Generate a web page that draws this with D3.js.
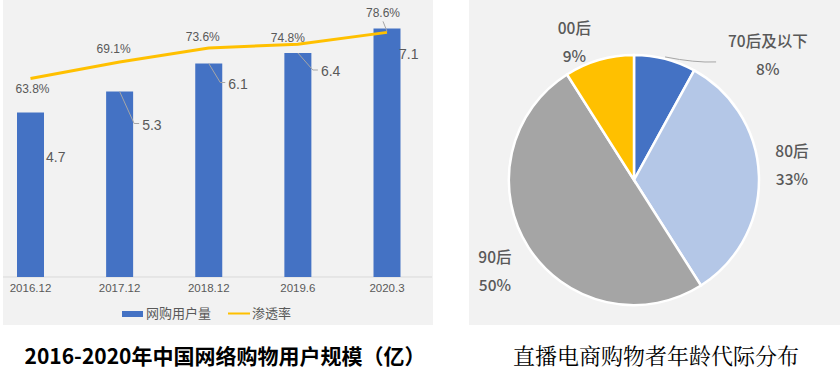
<!DOCTYPE html>
<html>
<head>
<meta charset="utf-8">
<script src="https://cdn.jsdelivr.net/npm/d3@7"></script>
<style>
	body{margin:0;background:#fff;}
	svg{display:block;}
	.cjk{font-family:"Noto Sans CJK SC","Noto Sans",sans-serif;}
	.narrow{font-family:"Liberation Sans Narrow","Arial Narrow","Liberation Sans",sans-serif;}
	.num{font-family:"Liberation Sans",Arial,sans-serif;}
</style>
</head>
<body>
<div id="chart"></div>
<script>
// dados do gráfico de barras
var years = ["2016.12","2017.12","2018.12","2019.6","2020.3"];
var users = [4.7, 5.3, 6.1, 6.4, 7.1];
var rate = [63.8, 69.1, 73.6, 74.8, 78.6];
// dados da pizza
var ageGroups = ["70后及以下","80后","90后","00后"];
var agePct = [8, 33, 50, 9];

var W = 840, H = 373;
var grey = "#595959";
var svg = d3.select("#chart").append("svg").attr("width", W).attr("height", H);

// fundos cinza
svg.append("rect").attr("x",3).attr("y",0).attr("width",430).attr("height",325).attr("fill","#f2f2f2");
svg.append("rect").attr("x",469).attr("y",0).attr("width",371).attr("height",325).attr("fill","#f2f2f2");

// ---------- barras + linha ----------
var base = 277;
var x = d3.scalePoint().domain(years).range([30.5, 387]);
var y = d3.scaleLinear().domain([0, 8]).range([base, base - 280]);
var yRate = d3.scaleLinear().domain([0, 89]).range([base, 0]);
var barW = 27;

var left = svg.append("g");

left.append("line").attr("x1",3).attr("x2",432).attr("y1",base).attr("y2",base)
	.attr("stroke","#d9d9d9").attr("stroke-width",1);

left.selectAll(".bar").data(users).enter().append("rect")
	.attr("class","bar")
	.attr("x", function(d,i){ return x(years[i]) - barW/2; })
	.attr("y", function(d){ return y(d); })
	.attr("width", barW)
	.attr("height", function(d){ return base - y(d); })
	.attr("fill","#4472c4");

// posição dos rótulos de valor (ajustes manuais como no original)
var valOff = [[15.5,44],[22.5,33],[19.5,20],[23,18],[12,25]];
left.selectAll(".vlead").data(users).enter()
	.filter(function(d,i){ return valOff[i][0] > 18; })
	.append("polyline").attr("class","vlead")
	.attr("points", function(d){
		var i = users.indexOf(d);
		var cx = x(years[i]), ty = y(d);
		var lx = cx + valOff[i][0], ly = ty + valOff[i][1];
		return [[cx,ty],[lx-8,ly-1],[lx-3,ly-1]].map(function(p){return p.join(",");}).join(" ");
	})
	.attr("fill","none").attr("stroke","#a6a6a6").attr("stroke-width",1);

left.selectAll(".vlabel").data(users).enter().append("text")
	.attr("class","vlabel num")
	.attr("x", function(d,i){ return x(years[i]) + valOff[i][0]; })
	.attr("y", function(d,i){ return y(d) + valOff[i][1] + 5; })
	.attr("font-size",14).attr("fill",grey)
	.text(function(d){ return d.toFixed(1); });

var line = d3.line()
	.x(function(d,i){ return x(years[i]); })
	.y(function(d){ return yRate(d); });
left.append("path").datum(rate).attr("d", line)
	.attr("fill","none").attr("stroke","#ffc000").attr("stroke-width",3);

var rateOff = [[2,15],[-6,-9],[-6,-7],[-10,-2],[-4,-15]];
left.append("line")
	.attr("x1", x(years[4]) - 4).attr("y1", yRate(rate[4]) - 11)
	.attr("x2", x(years[4])).attr("y2", yRate(rate[4]) - 1)
	.attr("stroke","#a6a6a6").attr("stroke-width",1);
left.selectAll(".rlabel").data(rate).enter().append("text")
	.attr("class","rlabel narrow")
	.attr("x", function(d,i){ return x(years[i]) + rateOff[i][0]; })
	.attr("y", function(d,i){ return yRate(d) + rateOff[i][1]; })
	.attr("text-anchor","middle").attr("font-size",12).attr("fill",grey)
	.text(function(d){ return d.toFixed(1) + "%"; });

left.selectAll(".tick").data(years).enter().append("text")
	.attr("class","tick narrow")
	.attr("x", function(d){ return x(d); })
	.attr("y", 292)
	.attr("text-anchor","middle").attr("font-size",11.5).attr("fill",grey)
	.text(function(d){ return d; });

// legenda
var leg = left.append("g").attr("class","cjk");
leg.append("rect").attr("x",122).attr("y",311).attr("width",21).attr("height",6).attr("fill","#4472c4");
leg.append("text").attr("x",146).attr("y",318).attr("font-size",13).attr("fill",grey).text("网购用户量");
leg.append("line").attr("x1",228).attr("x2",250).attr("y1",313.5).attr("y2",313.5)
	.attr("stroke","#ffc000").attr("stroke-width",2);
leg.append("text").attr("x",252).attr("y",318).attr("font-size",13).attr("fill",grey).text("渗透率");

svg.append("text").attr("class","cjk")
	.attr("x",225).attr("y",364).attr("text-anchor","middle")
	.attr("font-size",21).attr("font-weight","bold").attr("fill","#000")
	.text("2016-2020年中国网络购物用户规模（亿）");

// ---------- pizza ----------
var cx = 634, cy = 180, R = 125;
var pieColors = ["#4472c4","#b4c7e7","#a5a5a5","#ffc000"];
var pie = d3.pie().sort(null).value(function(d){ return d; });
var arc = d3.arc().innerRadius(0).outerRadius(R);
var arcLabel = d3.arc().innerRadius(160).outerRadius(160);
var arcs = pie(agePct);

var gp = svg.append("g").attr("transform","translate("+cx+","+cy+")");
gp.selectAll(".slice").data(arcs).enter().append("path")
	.attr("class","slice")
	.attr("d", arc)
	.attr("fill", function(d,i){ return pieColors[i]; })
	.attr("stroke","#fff").attr("stroke-width",2.5);

// 70后 tem linha de chamada
var a0 = (arcs[0].startAngle + arcs[0].endAngle)/2;
var p0 = [R*Math.sin(a0), -R*Math.cos(a0)];
gp.append("path")
	.attr("d","M"+p0[0]+","+(p0[1]-2)+" Q"+(p0[0]+30)+","+(p0[1]+4)+" "+(p0[0]+51)+","+(p0[1]+3))
	.attr("fill","none").attr("stroke","#a6a6a6").attr("stroke-width",1);

var labOff = [[94,31],[-2,-9],[-4,6],[-15,17]];
var labs = gp.selectAll(".plabel").data(arcs).enter().append("g")
	.attr("class","plabel cjk")
	.attr("transform", function(d,i){
		var c = arcLabel.centroid(d);
		return "translate("+(c[0]+labOff[i][0])+","+(c[1]+labOff[i][1])+")";
	});
labs.append("text").attr("y",-9).attr("text-anchor","middle")
	.attr("font-size",15.5).attr("font-weight",500).attr("fill",grey)
	.text(function(d,i){ return ageGroups[i]; });
labs.append("text").attr("y",19).attr("text-anchor","middle")
	.attr("font-size",15.5).attr("font-weight",500).attr("fill",grey)
	.text(function(d){ return d.data + "%"; });

svg.append("text")
	.attr("x",656).attr("y",364).attr("text-anchor","middle")
	.attr("font-family",'"Noto Serif CJK SC","Noto Sans CJK SC",serif')
	.attr("font-size",22).attr("fill","#000")
	.text("直播电商购物者年龄代际分布");
</script>
</body>
</html>
